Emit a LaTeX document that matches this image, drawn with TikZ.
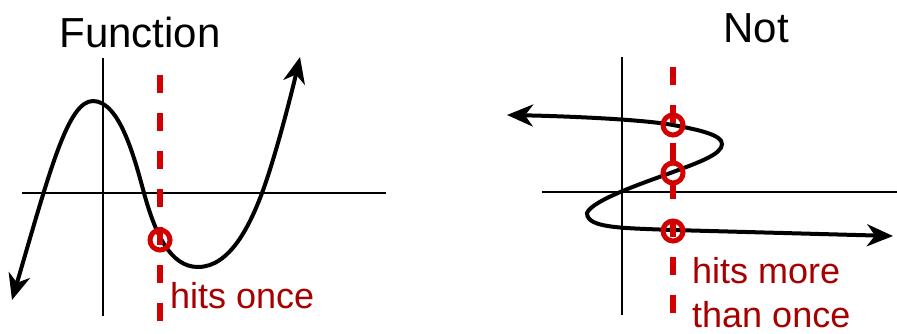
\documentclass[tikz,border=0pt]{standalone}
\usepackage{fontspec}
\setmainfont{Liberation Sans}
\usetikzlibrary{arrows.meta}
\definecolor{hitred}{RGB}{210,0,0}
\definecolor{txtred}{RGB}{166,0,0}
\begin{document}
\begin{tikzpicture}[x=1pt,y=-1pt,
  >={Stealth[length=26pt,width=22pt,inset=8pt]},
  axis/.style={line width=2pt},
  curve/.style={line width=4pt,<->},
  vline/.style={hitred,line width=6pt,dash pattern=on 18pt off 20pt},
  hit/.style={circle,draw=hitred,line width=5pt,minimum size=20pt,inner sep=0pt},
  title/.style={font=\fontsize{42}{50}\selectfont,anchor=base},
  lbl/.style={txtred,font=\fontsize{36}{44}\selectfont,anchor=base west,inner sep=0pt}]
\useasboundingbox (0,0) rectangle (897,333);

% function
\node[title] (tfun) at (140,47) {Function};
\coordinate (ylo1) at (103,58);
\coordinate (yhi1) at (103,316);
\coordinate (xlo1) at (22,193);
\coordinate (xhi1) at (386,193);
\draw[axis] (ylo1) -- (yhi1);
\draw[axis] (xlo1) -- (xhi1);
\draw[curve] (12,300) .. controls (50,170) and (68,101) .. (93,101)
  .. controls (120,101) and (135,160) .. (144,193)
  .. controls (155,233) and (170,267) .. (198,267)
  .. controls (230,267) and (250,225) .. (262,193)
  .. controls (274,161) and (290,100) .. (300,57);
\coordinate (vtop1) at (160,75);
\coordinate (vbot1) at (160,324);
\draw[vline] (vtop1) -- (vbot1);
\node[hit] (hit1) at (160,240) {};
\node[lbl] (once) at (170,308) {hits once};

% not a function
\node[title] (tnot) at (756,42) {Not};
\coordinate (ylo2) at (622,57);
\coordinate (yhi2) at (622,315);
\coordinate (xlo2) at (542,192);
\coordinate (xhi2) at (897,192);
\draw[axis] (ylo2) -- (yhi2);
\draw[axis] (xlo2) -- (xhi2);
\draw[curve] (507,115) .. controls (560,116) and (640,119) .. (673,125)
  .. controls (700,130) and (722,135) .. (722,144)
  .. controls (722,154) and (700,162) .. (673,172)
  .. controls (646,182) and (592,200) .. (587,213)
  .. controls (587,228) and (620,228) .. (673,230) -- (893,236);
\coordinate (vtop2) at (673,67);
\coordinate (vbot2) at (673,315);
\draw[vline] (vtop2) -- (vbot2);
\node[hit] (hit2a) at (673,125) {};
\node[hit] (hit2b) at (673,173) {};
\node[hit] (hit2c) at (673,231) {};
\node[lbl] (more1) at (692,283) {hits more};
\node[lbl] (more2) at (692,327) {than once};
\end{tikzpicture}
\end{document}
